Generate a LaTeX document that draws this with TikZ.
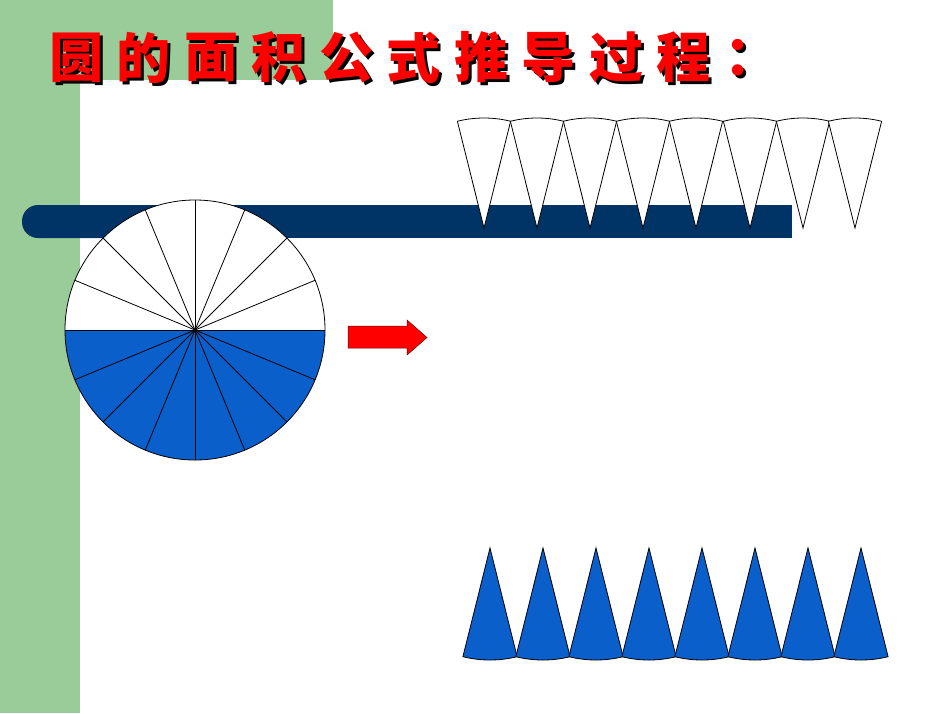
\documentclass[tikz,border=0pt]{standalone}
\usepackage{fontspec}
\newfontfamily\cjk{Noto Sans CJK SC}
\definecolor{gr}{HTML}{99CC99}
\definecolor{bar}{HTML}{003366}
\definecolor{bl}{HTML}{0A5FCB}
\newcommand{\shch}[1]{\makebox[0pt][l]{\hspace{3pt}\raisebox{-3pt}{\color{black}#1}}{\color{red}#1}}
\begin{document}
\begin{tikzpicture}[x=1pt,y=-1pt,
  wedge/.style={draw=black,line width=0.8pt},
  ttl/.style={font=\cjk\bfseries\fontsize{54}{54}\selectfont,inner sep=0pt}]
\useasboundingbox (0,0) rectangle (950,713);
\fill[white] (0,0) rectangle (950,713);
\fill[gr] (0,0) rectangle (80,713);
\fill[gr] (0,0) rectangle (333,80);
\fill[white,rounded corners=30pt] (80,80) rectangle (1000,800);
% bar
\fill[bar,rounded corners=16pt] (22,205) rectangle (300,238);
\fill[bar] (100,205) rectangle (792,238);
% circle
\coordinate (c) at (195,330);
\fill[white] (c) -- ++(180:130) arc[start angle=180,end angle=360,radius=130] -- cycle;
\fill[bl] (c) -- ++(0:130) arc[start angle=0,end angle=180,radius=130] -- cycle;
\foreach \a in {0,22.5,...,337.5} \draw[line width=0.8pt] (c) -- ++(\a:130);
\draw[line width=0.8pt] (c) circle[radius=130];
% arrow
\fill[red,draw=black!60!red,line width=0.5pt] (348,326) -- (407,326) -- (407,320) -- (427,337.5) -- (407,355) -- (407,348) -- (348,348) -- cycle;
% top wedges
\foreach \x in {484,537,590,643,696,750,803,855}
  \draw[wedge,fill=white] (\x,228) -- ++(256:110) arc[start angle=256,end angle=284,radius=110] -- cycle;
% bottom wedges
\foreach \x in {490,543,596,649,702,755,808,861}
  \draw[wedge,fill=bl] (\x,548) -- ++(76:112) arc[start angle=76,end angle=104,radius=112] -- cycle;
% title
\foreach \ch [count=\i from 0] in {圆,的,面,积,公,式,推,导,过,程,：}
  \node[ttl] (t\i) at (76+\i*67.5,59) {\shch{\ch}};
\end{tikzpicture}
\end{document}
